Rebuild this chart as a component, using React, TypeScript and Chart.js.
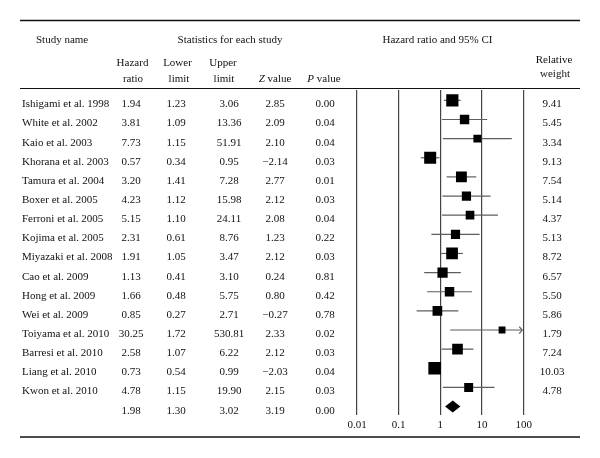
import React, { useEffect, useRef } from "react";
import { Chart, registerables } from "chart.js";

Chart.register(...registerables);

// ---------- data ----------
const studies = [
  "Ishigami et al. 1998",
  "White et al. 2002",
  "Kaio et al. 2003",
  "Khorana et al. 2003",
  "Tamura et al. 2004",
  "Boxer et al. 2005",
  "Ferroni et al. 2005",
  "Kojima et al. 2005",
  "Miyazaki et al. 2008",
  "Cao et al. 2009",
  "Hong et al. 2009",
  "Wei et al. 2009",
  "Toiyama et al. 2010",
  "Barresi et al. 2010",
  "Liang et al. 2010",
  "Kwon et al. 2010",
];
const hazardRatio = [1.94, 3.81, 7.73, 0.57, 3.2, 4.23, 5.15, 2.31, 1.91, 1.13, 1.66, 0.85, 30.25, 2.58, 0.73, 4.78];
const lowerLimit = [1.23, 1.09, 1.15, 0.34, 1.41, 1.12, 1.1, 0.61, 1.05, 0.41, 0.48, 0.27, 1.72, 1.07, 0.54, 1.15];
const upperLimit = [3.06, 13.36, 51.91, 0.95, 7.28, 15.98, 24.11, 8.76, 3.47, 3.1, 5.75, 2.71, 530.81, 6.22, 0.99, 19.9];
const zValues = ["2.85", "2.09", "2.10", "\u22122.14", "2.77", "2.12", "2.08", "1.23", "2.12", "0.24", "0.80", "\u22120.27", "2.33", "2.12", "\u22122.03", "2.15"];
const pValues = ["0.00", "0.04", "0.04", "0.03", "0.01", "0.03", "0.04", "0.22", "0.03", "0.81", "0.42", "0.78", "0.02", "0.03", "0.04", "0.03"];
const relativeWeight = [9.41, 5.45, 3.34, 9.13, 7.54, 5.14, 4.37, 5.13, 8.72, 6.57, 5.5, 5.86, 1.79, 7.24, 10.03, 4.78];

// pooled estimate: HR, lower, upper
const summaryValues = [1.98, 1.3, 3.02];
const summaryZ = "3.19";
const summaryP = "0.00";

const tickValues = [0.01, 0.1, 1, 10, 100];
const tickLabels = ["0.01", "0.1", "1", "10", "100"];

// ---------- style ----------
const FONT_FAMILY = '"Liberation Serif", "Times New Roman", serif';
const FONT_SIZE = 11;
const TEXT_COLOR = "#111";
const WHISKER_COLOR = "#5e5e5e";
const GRID_COLOR = "#444";

const COL = {
  name: 22,
  hr: 131,
  lower: 176,
  upper: 229,
  z: 275,
  p: 325,
  weight: 552,
};

const squareRadius = relativeWeight.map((w) => (5.6 + 0.7 * w) / (2 * Math.SQRT1_2));

const forestPlugin = {
  id: "forestPlugin",
  beforeDraw(chart: any) {
    const ctx = chart.ctx;
    ctx.save();
    ctx.fillStyle = "#ffffff";
    ctx.fillRect(0, 0, chart.width, chart.height);
    ctx.restore();
  },
  beforeDatasetsDraw(chart: any) {
    const ctx = chart.ctx;
    const xs = chart.scales.x;
    const ys = chart.scales.y;
    ctx.save();
    ctx.strokeStyle = WHISKER_COLOR;
    ctx.lineWidth = 1.2;
    for (let i = 0; i < studies.length; i++) {
      const y = ys.getPixelForValue(i);
      const lo = Math.max(lowerLimit[i], xs.min);
      const hiClipped = upperLimit[i] > xs.max;
      const hi = Math.min(upperLimit[i], xs.max);
      const x1 = xs.getPixelForValue(lo);
      const x2 = xs.getPixelForValue(hi);
      ctx.beginPath();
      ctx.moveTo(x1, y);
      ctx.lineTo(x2 - (hiClipped ? 1.5 : 0), y);
      ctx.stroke();
      if (hiClipped) {
        ctx.beginPath();
        ctx.moveTo(x2 - 4.5, y - 3.5);
        ctx.lineTo(x2 - 1.5, y);
        ctx.lineTo(x2 - 4.5, y + 3.5);
        ctx.stroke();
      }
    }
    ctx.restore();
  },
  afterDatasetsDraw(chart: any) {
    const ctx = chart.ctx;
    const xs = chart.scales.x;
    const ys = chart.scales.y;
    ctx.save();

    // summary diamond
    const sy = ys.getPixelForValue(studies.length);
    const dx1 = xs.getPixelForValue(summaryValues[1]);
    const dxm = xs.getPixelForValue(summaryValues[0]);
    const dx2 = xs.getPixelForValue(summaryValues[2]);
    ctx.fillStyle = "#000";
    ctx.beginPath();
    ctx.moveTo(dx1, sy);
    ctx.lineTo(dxm, sy - 6);
    ctx.lineTo(dx2, sy);
    ctx.lineTo(dxm, sy + 6);
    ctx.closePath();
    ctx.fill();

    // rules
    ctx.strokeStyle = "#111";
    ctx.lineWidth = 1.3;
    ctx.beginPath();
    ctx.moveTo(20, 20.5);
    ctx.lineTo(580, 20.5);
    ctx.stroke();
    ctx.lineWidth = 1;
    ctx.beginPath();
    ctx.moveTo(20, 88.5);
    ctx.lineTo(580, 88.5);
    ctx.stroke();
    ctx.lineWidth = 1.3;
    ctx.beginPath();
    ctx.moveTo(20, 437);
    ctx.lineTo(580, 437);
    ctx.stroke();

    const normal = `${FONT_SIZE}px ${FONT_FAMILY}`;
    const italic = `italic ${FONT_SIZE}px ${FONT_FAMILY}`;
    ctx.fillStyle = TEXT_COLOR;
    ctx.textBaseline = "alphabetic";
    const text = (s: string, x: number, y: number, align: CanvasTextAlign = "center") => {
      ctx.font = normal;
      ctx.textAlign = align;
      ctx.fillText(s, x, y);
    };
    const mixed = (lead: string, rest: string, cx: number, y: number) => {
      ctx.font = italic;
      const w1 = ctx.measureText(lead).width;
      ctx.font = normal;
      const w2 = ctx.measureText(rest).width;
      const x0 = cx - (w1 + w2) / 2;
      ctx.textAlign = "left";
      ctx.font = italic;
      ctx.fillText(lead, x0, y);
      ctx.font = normal;
      ctx.fillText(rest, x0 + w1, y);
    };

    // header
    text("Study name", 36, 42.5, "left");
    text("Statistics for each study", 230, 42.5);
    text("Hazard ratio and 95% CI", 437.5, 42.5);
    text("Hazard", 132.5, 66);
    text("ratio", 133, 82.3);
    text("Lower", 177.5, 66);
    text("limit", 179, 82.3);
    text("Upper", 223, 66);
    text("limit", 224, 82.3);
    mixed("Z", " value", 275, 82.3);
    mixed("P", " value", 324, 82.3);
    text("Relative", 554, 63.3);
    text("weight", 555, 76.5);

    // rows
    for (let i = 0; i < studies.length; i++) {
      const by = ys.getPixelForValue(i) + 7;
      text(studies[i], COL.name, by, "left");
      text(hazardRatio[i].toFixed(2), COL.hr, by);
      text(lowerLimit[i].toFixed(2), COL.lower, by);
      text(upperLimit[i].toFixed(2), COL.upper, by);
      text(zValues[i], COL.z, by);
      text(pValues[i], COL.p, by);
      text(relativeWeight[i].toFixed(2), COL.weight, by);
    }
    const sb = sy + 7;
    text(summaryValues[0].toFixed(2), COL.hr, sb);
    text(summaryValues[1].toFixed(2), COL.lower, sb);
    text(summaryValues[2].toFixed(2), COL.upper, sb);
    text(summaryZ, COL.z, sb);
    text(summaryP, COL.p, sb);

    ctx.restore();
  },
};

export default function App() {
  const ref = useRef<HTMLCanvasElement>(null);

  useEffect(() => {
    if (!ref.current) return;
    const chart = new Chart(ref.current, {
      type: "scatter",
      data: {
        datasets: [
          {
            label: "Hazard ratio",
            data: hazardRatio.map((v, i) => ({ x: v, y: i })),
            pointStyle: "rect",
            pointRadius: squareRadius,
            pointHoverRadius: squareRadius,
            backgroundColor: "#000",
            borderColor: "#000",
            borderWidth: 0,
          },
        ],
      },
      options: {
        animation: false,
        responsive: false,
        devicePixelRatio: 1,
        events: [],
        layout: {
          padding: { left: 357, right: 76.3, top: 90, bottom: 23 },
        },
        plugins: {
          legend: { display: false },
          tooltip: { enabled: false },
        },
        scales: {
          x: {
            type: "logarithmic",
            min: 0.01,
            max: 100,
            afterBuildTicks: (scale: any) => {
              scale.ticks = tickValues.map((v) => ({ value: v }));
            },
            afterFit: (scale: any) => {
              scale.height = 20;
            },
            grid: {
              color: GRID_COLOR,
              lineWidth: 1.2,
              drawTicks: false,
            },
            border: { display: false },
            ticks: {
              autoSkip: false,
              maxRotation: 0,
              padding: 4,
              color: TEXT_COLOR,
              font: { family: FONT_FAMILY, size: 11 },
              callback: (value: any) => {
                const idx = tickValues.indexOf(Number(value));
                return idx >= 0 ? tickLabels[idx] : "";
              },
            },
          },
          y: {
            type: "linear",
            display: false,
            reverse: true,
            min: -0.54,
            max: 16.44,
          },
        },
      },
      plugins: [forestPlugin],
    } as any);
    return () => chart.destroy();
  }, []);

  return (
    <div style={{ position: "absolute", left: 0, top: 0, width: 600, height: 458, background: "#fff" }}>
      <canvas ref={ref} width={600} height={458} style={{ display: "block", width: 600, height: 458 }} />
    </div>
  );
}
